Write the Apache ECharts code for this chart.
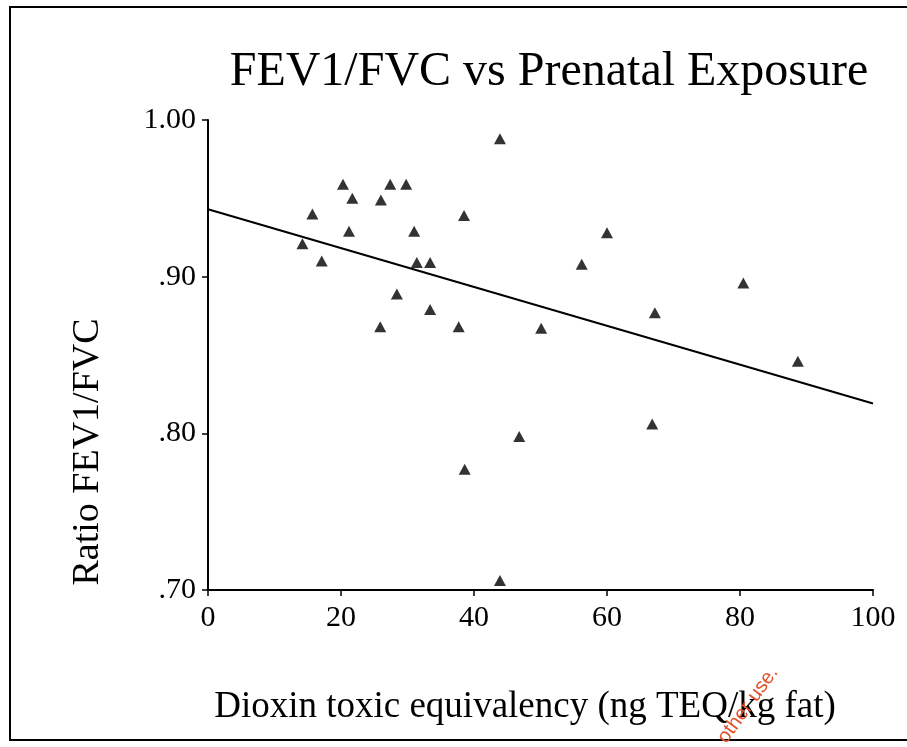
<!DOCTYPE html>
<html>
<head>
<meta charset="utf-8">
<script src="https://cdn.jsdelivr.net/npm/echarts@6/dist/echarts.min.js"></script>
<style>html,body{margin:0;padding:0;background:#fff}#c{width:907px;height:747px}</style>
</head>
<body>
<div id="c"></div>
<script>
// Data
const dioxinTEQ = [14.2, 15.7, 17.1, 20.3, 21.2, 21.7, 25.9, 26.0, 27.4, 28.4, 29.8, 31.0, 31.4, 33.4, 33.4, 37.7, 38.5, 38.6, 43.9, 43.9, 46.8, 50.1, 56.2, 60.0, 66.8, 67.2, 80.5, 88.7];
const fevRatio  = [0.921, 0.940, 0.910, 0.959, 0.929, 0.950, 0.868, 0.949, 0.959, 0.889, 0.959, 0.929, 0.909, 0.909, 0.879, 0.868, 0.939, 0.777, 0.988, 0.706, 0.798, 0.867, 0.908, 0.928, 0.806, 0.877, 0.896, 0.846];
const fitX = [0, 100];
const fitY = [0.943, 0.819];
const xTicks = [0, 20, 40, 60, 80, 100];
const yTickLabels = {'0.7': '.70', '0.8': '.80', '0.9': '.90', '1': '1.00'};
const titleText = 'FEV1/FVC vs Prenatal Exposure';
const xName = 'Dioxin toxic equivalency (ng TEQ/kg fat)';
const yName = 'Ratio FEV1/FVC';

const serif = '"Liberation Serif", "DejaVu Serif", serif';
const chart = echarts.init(document.getElementById('c'), null, {renderer: 'canvas'});
chart.setOption({
  backgroundColor: '#ffffff',
  animation: false,
  grid: {left: 208, right: 34, top: 120, bottom: 157},
  xAxis: {
    type: 'value', min: xTicks[0], max: xTicks[xTicks.length - 1], interval: 20,
    axisLine: {show: true, lineStyle: {color: '#000', width: 2}},
    axisTick: {show: true, inside: false, length: 6, lineStyle: {color: '#000', width: 1.5}},
    splitLine: {show: false},
    axisLabel: {color: '#000', fontFamily: serif, fontSize: 30, margin: 13}
  },
  yAxis: {
    type: 'value', min: 0.7, max: 1.0, interval: 0.1,
    axisLine: {show: true, lineStyle: {color: '#000', width: 2}},
    axisTick: {show: true, inside: false, length: 6, lineStyle: {color: '#000', width: 1.5}},
    splitLine: {show: false},
    axisLabel: {
      color: '#000', fontFamily: serif, fontSize: 30, margin: 12,
      formatter: v => yTickLabels[String(Math.round(v * 10) / 10)] || ''
    }
  },
  series: [
    {
      type: 'line',
      data: fitX.map((x, i) => [x, fitY[i]]),
      showSymbol: false, symbol: 'none',
      lineStyle: {color: '#000', width: 2},
      z: 2
    },
    {
      type: 'scatter',
      data: dioxinTEQ.map((x, i) => [x, fevRatio[i]]),
      symbol: 'triangle', symbolSize: [12, 11],
      itemStyle: {color: '#000'},
      z: 3
    }
  ],
  graphic: [
    {type: 'rect', shape: {x: 10, y: 7, width: 1000, height: 733}, style: {fill: 'none', stroke: '#000', lineWidth: 2}, silent: true},
    {type: 'text', x: 549, y: 72, style: {text: titleText, font: '48px ' + serif, fill: '#000', textAlign: 'center', textVerticalAlign: 'middle'}},
    {type: 'text', x: 88, y: 452, rotation: Math.PI / 2, style: {text: yName, font: '38px ' + serif, fill: '#000', textAlign: 'center', textVerticalAlign: 'middle'}},
    {type: 'text', x: 525, y: 707, style: {text: xName, font: '37px ' + serif, fill: '#000', textAlign: 'center', textVerticalAlign: 'middle'}},
    {type: 'text', x: 748, y: 705, rotation: Math.PI * 0.30, style: {text: 'other use.', font: '20px "Liberation Sans", sans-serif', fill: '#e0502a', textAlign: 'center', textVerticalAlign: 'middle'}}
  ]
});
</script>
</body>
</html>
